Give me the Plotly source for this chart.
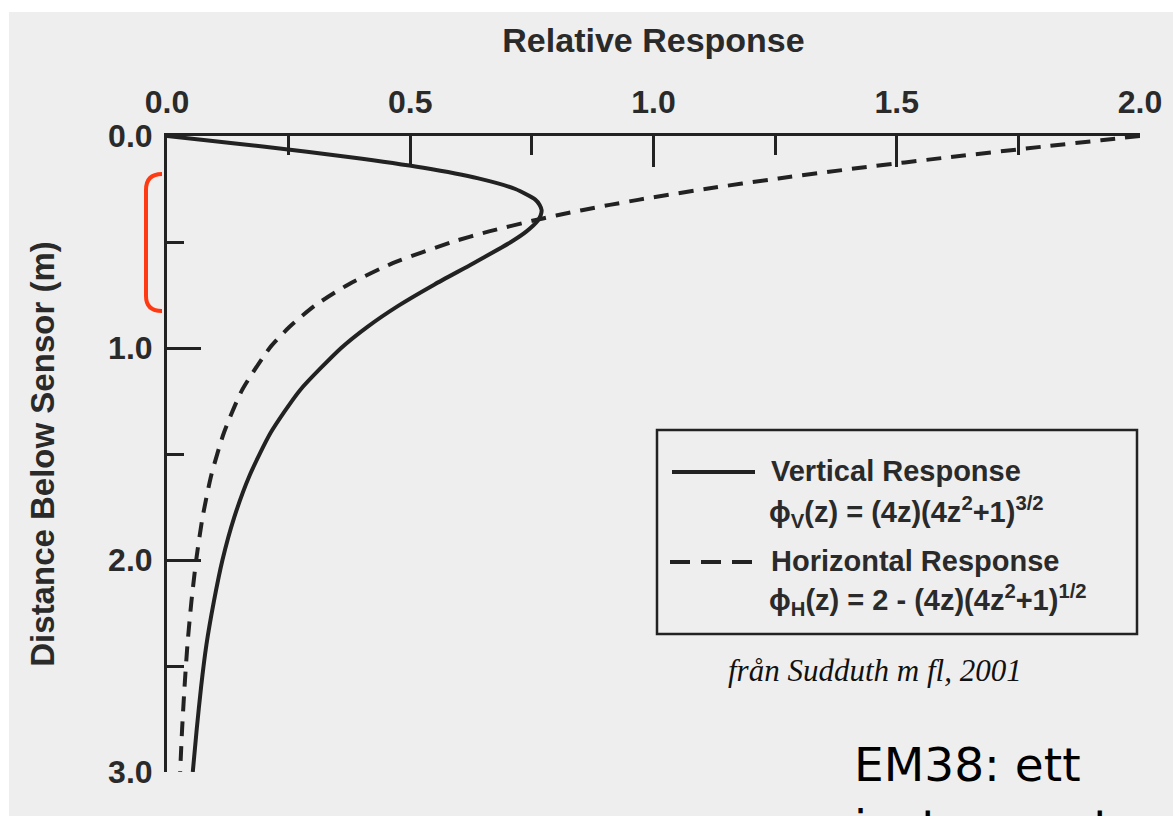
import plotly.graph_objects as go

# ---- data ----
depth_m = [0.0, 0.02, 0.05, 0.1, 0.15, 0.2, 0.25, 0.3, 0.325, 0.35, 0.375, 0.4, 0.45, 0.5,
           0.6, 0.7, 0.8, 0.9, 1.0, 1.2, 1.4, 1.6, 1.8, 2.0, 2.2, 2.4, 2.6, 2.8, 3.0]
vertical_response = [0.0, 0.080, 0.197, 0.377, 0.527, 0.640, 0.716, 0.757, 0.766, 0.770, 0.768,
                     0.762, 0.739, 0.707, 0.630, 0.550, 0.476, 0.412, 0.358, 0.273, 0.213,
                     0.170, 0.138, 0.114, 0.096, 0.081, 0.070, 0.061, 0.053]
horizontal_response = [2.0, 1.920, 1.801, 1.608, 1.425, 1.257, 1.106, 0.971, 0.910, 0.853, 0.800,
                       0.751, 0.662, 0.586, 0.464, 0.373, 0.304, 0.252, 0.211, 0.154, 0.117,
                       0.091, 0.073, 0.060, 0.050, 0.042, 0.036, 0.031, 0.027]
x_tickvals = [0.0, 0.5, 1.0, 1.5, 2.0]
x_ticktext = ["0.0", "0.5", "1.0", "1.5", "2.0"]
x_minor = [0.25, 0.75, 1.25, 1.75]
y_tickvals = [0.0, 1.0, 2.0, 3.0]
y_ticktext = ["0.0", "1.0", "2.0", "3.0"]
y_minor = [0.5, 1.5, 2.5]

INK = "#222222"
TXT = "#2a2a2a"
FONT = "Liberation Sans, Arial, sans-serif"

fig = go.Figure()
fig.add_trace(go.Scatter(x=vertical_response, y=depth_m, mode="lines",
                         line=dict(color=INK, width=4, shape="spline", smoothing=0.6),
                         name="Vertical Response", showlegend=False))
fig.add_trace(go.Scatter(x=horizontal_response, y=depth_m, mode="lines",
                         line=dict(color=INK, width=4, dash="15px,10px", shape="spline", smoothing=0.6),
                         name="Horizontal Response", showlegend=False))

axis_common = dict(showgrid=False, zeroline=False, showline=True, linecolor=INK, linewidth=3,
                   ticks="inside", tickcolor=INK, tickwidth=2.5, tickmode="array",
                   tickfont=dict(family=FONT, size=32, color=TXT, weight="bold"))

fig.update_xaxes(side="top", range=[0, 2], tickvals=x_tickvals, ticktext=x_ticktext,
                 ticklen=31, ticklabelstandoff=7,
                 minor=dict(ticks="inside", ticklen=19, tickwidth=2.5, tickcolor=INK,
                            tickmode="array", tickvals=x_minor, showgrid=False),
                 title=dict(text="Relative Response",
                            font=dict(family=FONT, size=34, color=TXT, weight="bold"),
                            standoff=22),
                 **axis_common)
fig.update_yaxes(range=[3, 0], tickvals=y_tickvals, ticktext=y_ticktext,
                 ticklen=34, ticklabelstandoff=5,
                 minor=dict(ticks="inside", ticklen=17, tickwidth=2.5, tickcolor=INK,
                            tickmode="array", tickvals=y_minor, showgrid=False),
                 title=dict(text="Distance Below Sensor (m)",
                            font=dict(family=FONT, size=33, color=TXT, weight="bold"),
                            standoff=44),
                 **axis_common)

def px_x(p):
    return (p - 167) / 973.0

def px_y(p):
    return (772 - p) / 636.0

shapes = [
    # white strips outside the scanned page
    dict(type="rect", xref="paper", yref="paper", x0=px_x(-20), x1=px_x(1200), y0=px_y(12), y1=px_y(-20),
         fillcolor="white", line=dict(width=0), layer="below"),
    dict(type="rect", xref="paper", yref="paper", x0=px_x(-20), x1=px_x(9), y0=px_y(840), y1=px_y(-20),
         fillcolor="white", line=dict(width=0), layer="below"),
    # legend box
    dict(type="rect", xref="paper", yref="paper", x0=px_x(657), x1=px_x(1137), y0=px_y(634), y1=px_y(430),
         line=dict(color=INK, width=2.5), fillcolor="rgba(0,0,0,0)"),
    dict(type="line", xref="paper", yref="paper", x0=px_x(672), x1=px_x(755), y0=px_y(472), y1=px_y(472),
         line=dict(color=INK, width=4)),
    dict(type="line", xref="paper", yref="paper", x0=px_x(670), x1=px_x(752), y0=px_y(562), y1=px_y(562),
         line=dict(color=INK, width=4, dash="20px,11px")),
    # orange bracket
    dict(type="path", xref="paper", yref="paper",
         path=(f"M {px_x(162)},{px_y(174)} Q {px_x(146)},{px_y(174)} {px_x(146)},{px_y(190)} "
               f"L {px_x(146)},{px_y(296)} Q {px_x(146)},{px_y(311)} {px_x(162)},{px_y(311)}"),
         line=dict(color="#ff3a12", width=4)),
]

LEG = dict(family=FONT, size=29, color=TXT, weight="bold")
annotations = [
    dict(text="Vertical Response", x=px_x(769), y=px_y(471)),
    dict(text="ϕ<sub>V</sub>(z) = (4z)(4z<sup>2</sup>+1)<sup>3/2</sup>", x=px_x(767), y=px_y(512)),
    dict(text="Horizontal Response", x=px_x(769), y=px_y(561)),
    dict(text="ϕ<sub>H</sub>(z) = 2 - (4z)(4z<sup>2</sup>+1)<sup>1/2</sup>", x=px_x(767), y=px_y(600)),
]
annotations = [dict(a, xref="paper", yref="paper", xanchor="left", yanchor="middle",
                    showarrow=False, font=LEG) for a in annotations]
annotations += [
    dict(text="<i>från Sudduth m fl, 2001</i>", x=px_x(875), y=px_y(670), xref="paper", yref="paper",
         xanchor="center", yanchor="middle", showarrow=False,
         font=dict(family="Liberation Serif, Times New Roman, serif", size=31, color="#111111")),
    dict(text="EM38: ett", x=px_x(852), y=px_y(764), xref="paper", yref="paper",
         xanchor="left", yanchor="middle", showarrow=False,
         font=dict(family="DejaVu Sans, sans-serif", size=47, color="#000000")),
    dict(text="instrument som", x=px_x(852), y=px_y(826), xref="paper", yref="paper",
         xanchor="left", yanchor="middle", showarrow=False,
         font=dict(family="DejaVu Sans, sans-serif", size=47, color="#000000")),
]

fig.update_layout(
    width=1173, height=816, autosize=False,
    margin=dict(l=167, r=33, t=136, b=44),
    paper_bgcolor="#eeeeee", plot_bgcolor="rgba(0,0,0,0)",
    shapes=shapes, annotations=annotations, showlegend=False,
)

fig.write_html("out.html", config={"displayModeBar": False},
               post_script="document.body.style.margin='0';")
